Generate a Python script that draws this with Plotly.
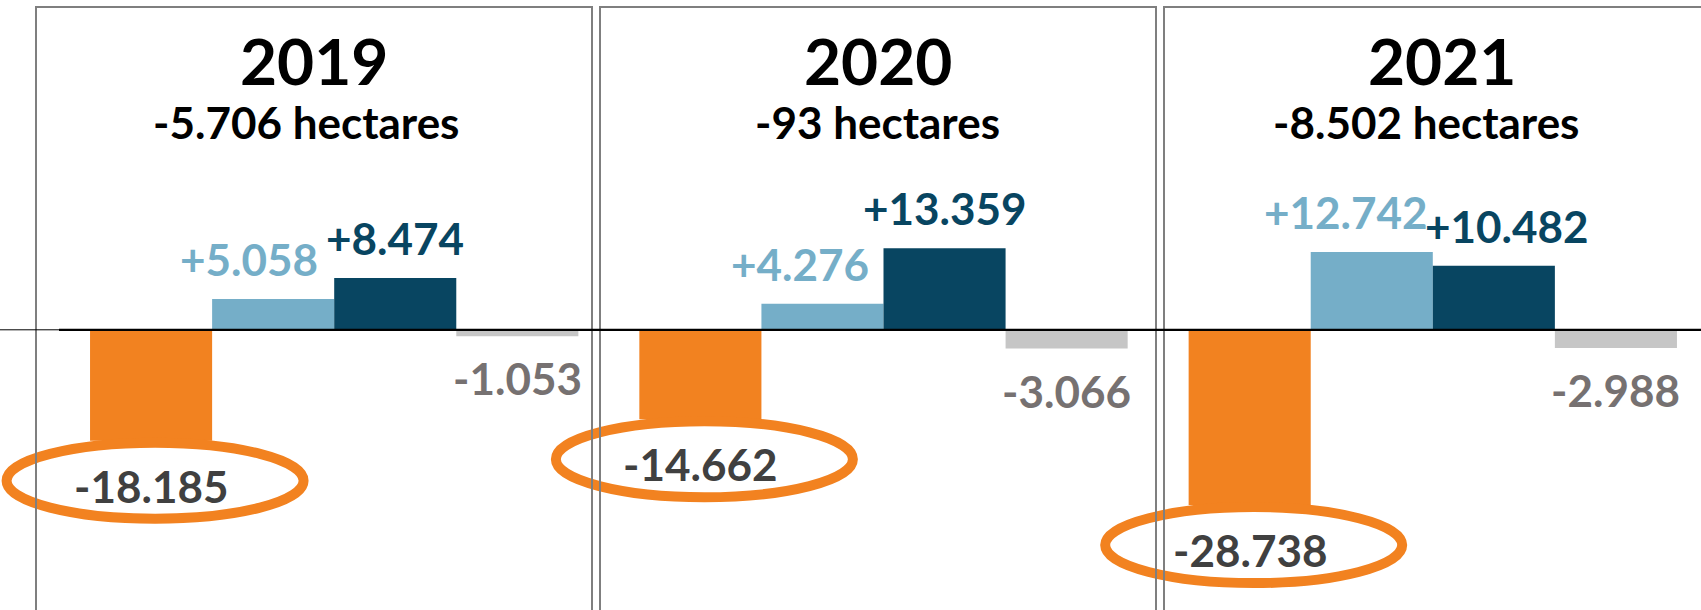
import plotly.graph_objects as go

# ------------------------------------------------------------
# data
# ------------------------------------------------------------
years = ["2019", "2020", "2021"]
perdida = [-18185, -14662, -28738]
ganancia_clara = [5058, 4276, 12742]
ganancia_oscura = [8474, 13359, 10482]
otros = [-1053, -3066, -2988]

series = [perdida, ganancia_clara, ganancia_oscura, otros]
bar_colors = ["#F28220", "#75AEC8", "#084561", "#C6C6C6"]
label_colors = ["#404040", "#75AEC8", "#084561", "#767171"]

# ------------------------------------------------------------
# layout constants (pixels)
# ------------------------------------------------------------
W, H = 1701, 610
PX_PER_CAT = 549.3
FIRST_CENTER = 334.2
ZERO_PX = 329.8
PX_PER_UNIT = 0.0061
BARGAP = 0.111
BW = (1 - BARGAP) / 4
FONT = "Lato"


def fmt(v, sign=True):
    s = f"{v:+,}" if sign else f"{v:,}"
    return s.replace(",", ".")


fig = go.Figure()
for vals, col in zip(series, bar_colors):
    fig.add_trace(go.Bar(
        x=years,
        y=vals,
        marker=dict(color=col, line=dict(width=0)),
        hoverinfo="skip",
    ))

annotations = []
shapes = []

# bar value labels
xshift_fix = {(1, 0): -24, (1, 1): -22, (1, 2): -26, (2, 2): 13}
for k, vals in enumerate(series):
    for i, v in enumerate(vals):
        xc = i + (k - 1.5) * BW
        if k == 0:
            ys = -45
        elif v > 0:
            ys = 40
        else:
            ys = -42
        annotations.append(dict(
            x=xc, y=v, xref="x", yref="y",
            text=fmt(v), showarrow=False,
            xanchor="center", yanchor="middle",
            xshift=xshift_fix.get((k, i), 0), yshift=ys,
            font=dict(family=FONT, size=44, color=label_colors[k], weight="bold"),
        ))

# highlight ellipses around the orange values
for i, v in enumerate(perdida):
    shapes.append(dict(
        type="circle", xref="x", yref="y",
        xsizemode="pixel", ysizemode="pixel",
        xanchor=i - 1.5 * BW, yanchor=v,
        x0=-144.5, x1=152.5, y0=-78, y1=-2,
        line=dict(color="#F28220", width=10),
        layer="above",
    ))

# panel boxes + titles
sub_shift = [-8, -1, -16]
for i, yr in enumerate(years):
    left = 36 + 564 * i
    right = left + 556
    shapes.append(dict(
        type="rect", xref="paper", yref="paper",
        x0=left / W, x1=right / W, y0=-0.1, y1=1 - 7 / H,
        line=dict(color="#7F7F7F", width=2),
        layer="above",
    ))
    cx = (left + right) / 2 / W
    annotations.append(dict(
        x=cx, y=1 - 60.5 / H, xref="paper", yref="paper",
        text=yr, showarrow=False, xanchor="center", yanchor="middle",
        font=dict(family=FONT, size=64, color="black", weight="bold"),
    ))
    total = perdida[i] + ganancia_clara[i] + ganancia_oscura[i] + otros[i]
    annotations.append(dict(
        x=cx, y=1 - 122.5 / H, xref="paper", yref="paper",
        text=f"{fmt(total, sign=False)} hectares", showarrow=False,
        xanchor="center", yanchor="middle", xshift=sub_shift[i],
        font=dict(family=FONT, size=44, color="black", weight="bold"),
    ))

# zero line
shapes.append(dict(type="line", xref="paper", yref="y", x0=0, x1=1, y0=0, y1=0,
                   line=dict(color="black", width=1), layer="above"))
shapes.append(dict(type="line", xref="paper", yref="y", x0=59 / W, x1=1, y0=0, y1=0,
                   line=dict(color="black", width=2.2), layer="above"))

fig.update_layout(
    width=W,
    height=H,
    margin=dict(l=0, r=0, t=0, b=0),
    paper_bgcolor="white",
    plot_bgcolor="white",
    barmode="group",
    bargap=BARGAP,
    bargroupgap=0,
    showlegend=False,
    annotations=annotations,
    shapes=shapes,
    xaxis=dict(
        type="category",
        range=[-FIRST_CENTER / PX_PER_CAT, (W - FIRST_CENTER) / PX_PER_CAT],
        showticklabels=False, showgrid=False, zeroline=False, showline=False,
        fixedrange=True,
    ),
    yaxis=dict(
        range=[-(H - ZERO_PX) / PX_PER_UNIT, ZERO_PX / PX_PER_UNIT],
        showticklabels=False, showgrid=False, zeroline=False, showline=False,
        fixedrange=True,
    ),
)

# page has a default 8px body margin; drop it so the chart sits at 0,0
fig.write_html(
    "out.html",
    config={"displayModeBar": False},
    post_script="document.body.style.margin='0';document.body.style.overflow='hidden';",
)
